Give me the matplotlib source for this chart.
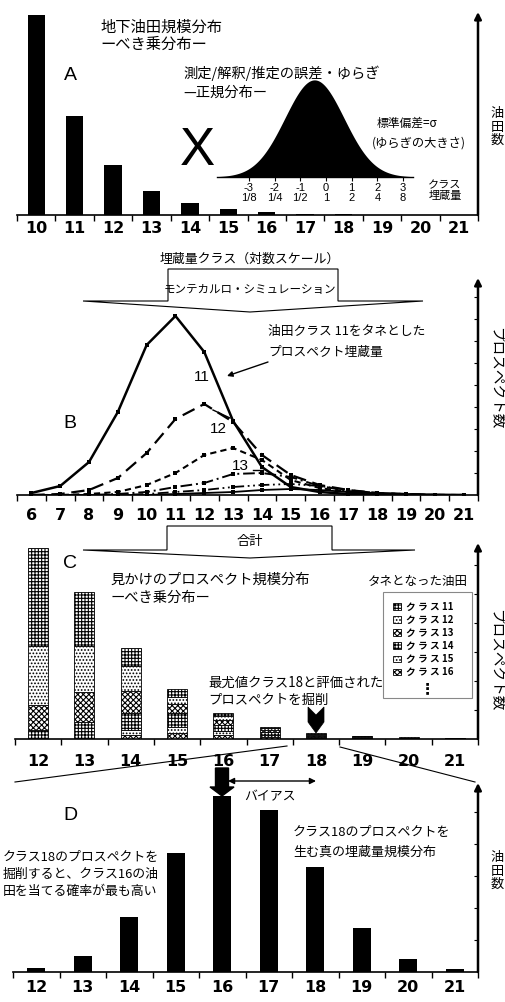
import numpy as np
import matplotlib.pyplot as plt
from matplotlib.patches import Polygon, Rectangle, FancyArrow

plt.rcParams['font.family'] = ['Noto Sans CJK JP', 'DejaVu Sans']
plt.rcParams['hatch.linewidth'] = 0.8

W, H = 505, 1002

# --- A: underground field size distribution (power law) ---
a_classes = list(range(10, 22))
a_fields = [200, 99, 50, 24, 12, 6, 3, 1.5, 0.7, 0.3, 0.15, 0.1]

# measurement / interpretation error (normal distribution)
gauss_mu = -0.45
gauss_sigma = 1.15
gauss_ticks = [-3, -2, -1, 0, 1, 2, 3]
gauss_sizes = ['1/8', '1/4', '1/2', '1', '2', '4', '8']

# --- B: Monte Carlo prospect volumes, one curve per seed field class ---
b_classes = list(range(6, 22))
b_curve_11 = [2, 9, 33, 83, 150, 179, 143, 74, 28, 8, 3, 1, 0.5, 0, 0, 0]
b_curve_12 = [0, 1, 5, 17, 42, 76, 91, 73, 40, 20, 10, 5, 2, 1, 0, 0]
b_curve_13 = [0, 0, 1, 3, 10, 22, 40, 47, 35, 15, 7, 3, 1, 0, 0, 0]
b_curve_14 = [0, 0, 0, 1, 3, 8, 12, 21, 22, 18, 9, 4, 1, 0.5, 0, 0]
b_curve_15 = [0, 0, 0, 0, 1, 3, 5, 8, 10, 11, 9, 5, 2, 1, 0, 0]
b_curve_16 = [0, 0, 0, 0, 0, 1, 2, 3, 5, 6, 5, 3, 2, 1, 0.5, 0]

# --- C: apparent prospect distribution, stacked by seed class ---
c_classes = list(range(12, 22))
c_seed_11 = [98, 54, 18, 8, 3, 1, 0.5, 0.2, 0.1, 0]
c_seed_12 = [59, 46, 25, 7, 4, 2, 1, 0.4, 0.2, 0.1]
c_seed_13 = [25, 30, 22, 9, 5, 2, 1, 0.6, 0.3, 0.2]
c_seed_14 = [9, 17, 17, 14, 6, 3, 1.5, 0.8, 0.4, 0.3]
c_seed_15 = [0, 0, 5, 6, 4, 2, 1, 0.6, 0.3, 0.2]
c_seed_16 = [0, 0, 4, 6, 4, 2, 1, 0.4, 0.2, 0.2]

# --- D: true size distribution behind class-18 prospects ---
d_classes = list(range(12, 22))
d_fields = [4, 16, 55, 119, 176, 162, 105, 44, 13, 3]

NUM = dict(family='DejaVu Sans', weight='bold')

fig = plt.figure(figsize=(W / 100, H / 100), dpi=100)


def px_axes(left, top, right, bottom):
    return fig.add_axes([left / W, 1 - bottom / H, (right - left) / W, (bottom - top) / H])


def class_axis(ax, classes, ymax, fsize, pad, ystep=None):
    n = len(classes)
    ax.set_xlim(-0.5, n - 0.5)
    ax.set_ylim(0, ymax)
    for s in ['left', 'top', 'right']:
        ax.spines[s].set_visible(False)
    ax.spines['bottom'].set_linewidth(1.2)
    ax.set_xticks(np.arange(n + 1) - 0.5)
    ax.set_xticklabels([])
    ax.set_xticks(np.arange(n), minor=True)
    ax.set_xticklabels([str(c) for c in classes], minor=True, fontsize=fsize, **NUM)
    ax.tick_params(axis='x', which='major', direction='out', length=4, width=1)
    ax.tick_params(axis='x', which='minor', length=0, pad=pad)
    ax.yaxis.tick_right()
    if ystep:
        ax.set_yticks(np.arange(ystep, ymax, ystep))
    else:
        ax.set_yticks([])
    ax.set_yticklabels([])
    ax.tick_params(axis='y', direction='in', length=3, width=0.8)
    ax.patch.set_alpha(0)
    ax.annotate('', xy=(1, 1), xytext=(1, 0), xycoords='axes fraction',
                arrowprops=dict(arrowstyle='-|>', lw=1.8, color='black',
                                mutation_scale=10, shrinkA=0, shrinkB=0))


# ---------------- Panel A ----------------
ax_a = px_axes(17, 12, 478, 215)
class_axis(ax_a, a_classes, 203, 11.5, 4)
ax_a.bar(np.arange(len(a_classes)), a_fields, width=0.45, color='black')

gx = px_axes(205, 76, 420, 177)
gx.set_xlim((205 - 326) / 25.7, (420 - 326) / 25.7)
gx.set_ylim(0, 1.04)
xs = np.linspace(-4.24, 3.39, 300)
gx.fill_between(xs, np.exp(-(xs - gauss_mu) ** 2 / (2 * gauss_sigma ** 2)), color='black', lw=0)
for s in ['left', 'top', 'right']:
    gx.spines[s].set_visible(False)
gx.spines['bottom'].set_bounds(-4.24, 3.39)
gx.spines['bottom'].set_linewidth(1)
gx.set_yticks([])
gx.set_xticks(gauss_ticks)
gx.set_xticklabels([f'{t}\n{s}' for t, s in zip(gauss_ticks, gauss_sizes)],
                   fontsize=8, family='Liberation Sans', linespacing=1.0)
gx.tick_params(axis='x', direction='out', length=3, width=0.8, pad=1)
gx.patch.set_alpha(0)

# ---------------- Panel B ----------------
ax_b = px_axes(17, 278, 478, 495)
class_axis(ax_b, b_classes, 217, 11.5, 9.5, ystep=22)
xb = np.arange(len(b_classes))
b_styles = [
    (b_curve_16, '-', 1.3),
    (b_curve_15, (0, (6, 2, 1, 2, 1, 2)), 1.3),
    (b_curve_14, (0, (6, 2, 1, 2)), 1.4),
    (b_curve_13, (0, (3, 2)), 1.5),
    (b_curve_12, (0, (6, 3)), 1.6),
    (b_curve_11, '-', 1.8),
]
for vals, ls, lw in b_styles:
    ax_b.plot(xb, vals, color='black', ls=ls, lw=lw, marker='s', ms=3.5,
              markerfacecolor='black', markeredgewidth=0)

# ---------------- Panel C ----------------
ax_c = px_axes(15, 543, 478, 739)
class_axis(ax_c, c_classes, 196, 11.5, 10.5, ystep=29)
xc = np.arange(len(c_classes))
c_stack = [
    (c_seed_16, 'xxxxxx', 'ク ラ ス 16'),
    (c_seed_15, '.....', 'ク ラ ス 15'),
    (c_seed_14, '+++++', 'ク ラ ス 14'),
    (c_seed_13, 'xxxxxx', 'ク ラ ス 13'),
    (c_seed_12, '.....', 'ク ラ ス 12'),
    (c_seed_11, '+++++', 'ク ラ ス 11'),
]
bottom = np.zeros(len(c_classes))
handles = []
for vals, hatch, label in c_stack:
    bars = ax_c.bar(xc, vals, width=0.43, bottom=bottom, facecolor='white',
                    edgecolor='black', hatch=hatch, lw=0.6, label=label)
    handles.append(bars)
    bottom += np.array(vals)
handles = handles[::-1]
ax_c.legend(handles, [h.get_label() for h in handles], loc='upper left',
            bbox_to_anchor=(388 / W, 1 - 597 / H), bbox_transform=fig.transFigure,
            frameon=False, prop=dict(size=7, weight='bold'), handlelength=0.8,
            handleheight=0.7, handletextpad=0.5, labelspacing=0.32, borderpad=0)

# ---------------- Panel D ----------------
ax_d = px_axes(13, 783, 478, 972)
class_axis(ax_d, d_classes, 189, 11.5, 6, ystep=32)
ax_d.bar(np.arange(len(d_classes)), d_fields, width=0.39, color='black')

# ---------------- annotations (pixel overlay) ----------------
ov = fig.add_axes([0, 0, 1, 1], zorder=10)
ov.set_xlim(0, W)
ov.set_ylim(H, 0)
ov.axis('off')
ov.patch.set_alpha(0)

big = dict(family='Liberation Sans', fontsize=14, ha='center', va='center')
ov.text(70, 75, 'A', **big)
ov.text(70, 423, 'B', **big)
ov.text(70, 563, 'C', **big)
ov.text(70, 815, 'D', **big)
ov.text(197, 151, 'X', family='Liberation Sans', fontsize=38, ha='center', va='center')

ov.text(100, 27, '地下油田規模分布', fontsize=11, va='center')
ov.text(100, 44, 'ーべき乗分布ー', fontsize=11, va='center')
ov.text(183, 73, '測定/解釈/推定の誤差・ゆらぎ', fontsize=10.3, va='center')
ov.text(183, 93, '—正規分布ー', fontsize=10.3, va='center')
ov.text(377, 123, '標準偏差=σ', fontsize=8.5, va='center')
ov.text(372, 143, '(ゆらぎの大きさ)', fontsize=8.8, va='center')
ov.text(445, 191, 'クラス\n埋蔵量', fontsize=8, ha='center', va='center', linespacing=1.1)

# y-axis captions
ov.text(497, 127, '油\n田\n数', fontsize=9.5, ha='center', va='center', linespacing=1.05)
ov.text(496, 378, 'プロスペクト数', fontsize=10.5, ha='center', va='center', rotation=-90)
ov.text(496, 660, 'プロスペクト数', fontsize=10.5, ha='center', va='center', rotation=-90)
ov.text(497, 871, '油\n田\n数', fontsize=9.5, ha='center', va='center', linespacing=1.05)

# block arrows between panels
ov.text(250, 259, '埋蔵量クラス（対数スケール）', fontsize=9.3, ha='center', va='center')
ov.add_patch(Polygon([(83, 301), (168, 301), (168, 269), (338, 269), (338, 301),
                      (423, 301), (250, 312)], closed=True, fc='white', ec='black', lw=0.8))
ov.text(250, 289, 'モンテカルロ・シミュレーション', fontsize=8.3, ha='center', va='center')

ov.add_patch(Polygon([(83, 550), (167, 550), (167, 526), (332, 526), (332, 550),
                      (415, 550), (250, 558)], closed=True, fc='white', ec='black', lw=0.8))
ov.text(250, 542, '合計', fontsize=9.5, ha='center', va='center')

# panel B labels
ov.text(202, 377, '11', family='Liberation Sans', fontsize=11, ha='center', va='center')
ov.text(218, 429, '12', family='Liberation Sans', fontsize=11, ha='center', va='center')
ov.text(240, 466, '13', family='Liberation Sans', fontsize=11, ha='center', va='center')
ov.plot([213, 230], [410, 418], color='black', lw=1)
ov.plot([253, 263], [470, 470], color='black', lw=1)
ov.text(268, 332, '油田クラス 11をタネとした', fontsize=9.2, va='center')
ov.text(268, 352, 'プロスペクト埋蔵量', fontsize=9.2, va='center')
ov.annotate('', xy=(227, 376), xytext=(268, 362),
            arrowprops=dict(arrowstyle='-|>', lw=1, color='black', mutation_scale=8,
                            shrinkA=0, shrinkB=0))

# panel C labels
ov.text(110, 580, '見かけのプロスペクト規模分布', fontsize=10.3, va='center')
ov.text(110, 598, 'ーべき乗分布ー', fontsize=10.3, va='center')
ov.text(208, 683, '最尤値クラス18と評価された', fontsize=9.6, va='center')
ov.text(208, 700, 'プロスペクトを掘削', fontsize=9.6, va='center')
ov.text(418, 582, 'タネとなった油田', fontsize=9, ha='center', va='center')
ov.add_patch(Rectangle((383, 592), 89, 106, fill=False, ec='#888888', lw=0.8))
ov.text(427, 688, '⋮', fontsize=11, ha='center', va='center', weight='bold')
ov.add_patch(Polygon([(308, 707), (316, 715), (324, 707), (324, 722), (316, 733),
                      (308, 722)], closed=True, fc='black', ec='black', lw=0.5))

# zoom lines from C to D
ov.plot([287, 15], [746, 782], color='black', lw=0.8)
ov.plot([340, 475], [747, 782], color='black', lw=0.8)

# panel D labels
ov.add_patch(FancyArrow(222, 768, 0, 28, width=13, head_width=24, head_length=9,
                        length_includes_head=True, color='black'))
ov.annotate('', xy=(228, 781), xytext=(316, 781),
            arrowprops=dict(arrowstyle='<|-|>', lw=1, color='black', mutation_scale=9,
                            shrinkA=0, shrinkB=0))
ov.text(270, 797, 'バイアス', fontsize=9.3, ha='center', va='center')
ov.text(293, 832, 'クラス18のプロスペクトを', fontsize=9.4, va='center')
ov.text(293, 852, '生む真の埋蔵量規模分布', fontsize=9.4, va='center')
ov.text(3, 857, 'クラス18のプロスペクトを', fontsize=9.3, va='center')
ov.text(3, 874, '掘削すると、クラス16の油', fontsize=9.3, va='center')
ov.text(3, 891, '田を当てる確率が最も高い', fontsize=9.3, va='center')

plt.savefig('out.png', dpi=100)
